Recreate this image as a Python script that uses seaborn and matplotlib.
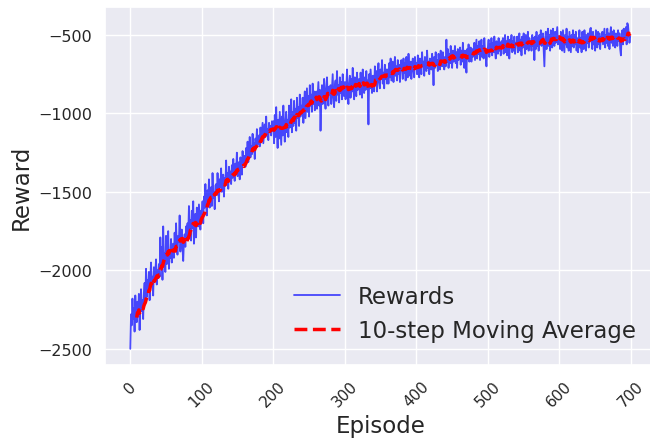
import numpy as np
import pandas as pd
import matplotlib
matplotlib.use("Agg")
import matplotlib.pyplot as plt
import seaborn as sns

# Reward per episode (20 episodes per row)
rewards = [
    -2500, -2280, -2350, -2180, -2310, -2240, -2390, -2160, -2270, -2330, -2200, -2290, -2150, -2380, -2220, -2120, -2260, -2190, -2310, -2140,
    -2080, -2200, -1990, -2170, -2060, -2130, -2010, -2190, -2050, -1950, -2100, -2040, -2160, -1980, -2070, -2010, -1930, -2090, -2000, -2050,
    -1960, -2040, -1790, -1980, -1850, -2060, -1720, -1930, -1890, -2010, -1780, -1960, -1840, -1750, -1990, -1870, -1920, -1800, -1950, -1860,
    -1830, -1920, -1760, -1870, -1700, -1850, -1900, -1780, -1820, -1650, -1880, -1790, -1740, -1860, -1940, -1810, -1770, -1850, -1720, -1800,
    -1700, -1780, -1590, -1740, -1680, -1810, -1620, -1730, -1560, -1830, -1750, -1640, -1790, -1600, -1690, -1720, -1580, -1660, -1740, -1620,
    -1640, -1560, -1700, -1530, -1600, -1450, -1580, -1650, -1490, -1560, -1420, -1600, -1520, -1470, -1590, -1380, -1540, -1500, -1610, -1460,
    -1450, -1520, -1380, -1490, -1560, -1420, -1470, -1350, -1500, -1440, -1390, -1530, -1410, -1460, -1300, -1440, -1380, -1480, -1340, -1420,
    -1370, -1450, -1330, -1410, -1290, -1390, -1430, -1320, -1380, -1250, -1400, -1360, -1310, -1420, -1280, -1350, -1390, -1240, -1330, -1300,
    -1270, -1340, -1220, -1290, -1180, -1310, -1250, -1150, -1280, -1210, -1260, -1130, -1240, -1190, -1290, -1160, -1220, -1100, -1200, -1170,
    -1140, -1210, -1090, -1180, -1120, -1060, -1190, -1130, -1070, -1150, -1020, -1140, -1100, -1170, -1060, -1120, -1080, -1140, -1050, -1110,
    -1050, -1190, -1010, -1150, -960, -1110, -1220, -1040, -1160, -990, -1100, -1200, -1020, -1140, -950, -1080, -1180, -1060, -990, -1120,
    -1040, -1150, -950, -1090, -1010, -910, -1120, -990, -1080, -920, -1060, -970, -1110, -900, -1030, -960, -1080, -880, -1020, -950,
    -1000, -900, -1060, -940, -860, -1030, -930, -840, -990, -890, -1020, -820, -950, -880, -990, -810, -940, -860, -980, -880,
    -860, -970, -890, -800, -950, -850, -1110, -920, -820, -940, -870, -780, -910, -970, -840, -770, -900, -950, -830, -880,
    -820, -940, -850, -750, -900, -960, -830, -790, -920, -730, -880, -820, -930, -770, -870, -800, -910, -750, -850, -890,
    -800, -910, -830, -720, -880, -940, -810, -760, -900, -780, -860, -710, -840, -910, -770, -820, -890, -740, -850, -790,
    -780, -880, -740, -830, -900, -720, -820, -870, -770, -850, -730, -840, -790, -1070, -750, -840, -720, -800, -870, -760,
    -760, -860, -700, -810, -730, -860, -750, -680, -800, -840, -720, -780, -660, -810, -740, -840, -690, -780, -720, -810,
    -720, -810, -680, -770, -650, -790, -730, -670, -800, -710, -640, -760, -700, -790, -660, -750, -690, -800, -700, -660,
    -700, -780, -650, -740, -680, -790, -640, -720, -770, -620, -710, -760, -670, -780, -690, -650, -730, -770, -640, -710,
    -680, -750, -630, -710, -770, -650, -690, -750, -610, -700, -670, -760, -640, -690, -730, -600, -710, -670, -750, -650,
    -670, -720, -620, -690, -820, -640, -710, -610, -690, -660, -730, -620, -680, -720, -600, -670, -700, -610, -680, -720,
    -640, -700, -530, -670, -590, -710, -620, -680, -570, -650, -710, -600, -670, -630, -570, -680, -610, -710, -590, -660,
    -630, -580, -690, -600, -670, -550, -640, -710, -600, -660, -740, -590, -650, -560, -670, -610, -580, -670, -590, -640,
    -600, -550, -660, -590, -530, -650, -570, -620, -540, -660, -600, -530, -640, -570, -650, -520, -600, -640, -700, -590,
    -580, -530, -640, -560, -610, -520, -630, -550, -610, -510, -600, -650, -540, -590, -620, -520, -600, -550, -630, -540,
    -570, -520, -620, -550, -500, -610, -540, -630, -510, -590, -650, -530, -580, -500, -610, -540, -600, -510, -620, -550,
    -560, -510, -610, -540, -490, -600, -530, -630, -510, -580, -490, -550, -620, -500, -590, -530, -480, -600, -520, -570,
    -540, -600, -500, -570, -520, -660, -510, -590, -480, -570, -520, -600, -500, -560, -470, -570, -520, -490, -590, -700,
    -530, -480, -590, -510, -460, -570, -500, -600, -470, -550, -580, -460, -520, -570, -480, -550, -500, -450, -560, -510,
    -520, -590, -480, -560, -600, -470, -540, -610, -500, -560, -460, -580, -510, -600, -480, -550, -610, -500, -570, -470,
    -580, -500, -560, -480, -600, -520, -610, -550, -470, -580, -520, -610, -480, -550, -590, -470, -530, -600, -500, -550,
    -490, -580, -510, -460, -455, -540, -590, -480, -560, -510, -600, -470, -540, -580, -480, -560, -490, -590, -510, -540,
    -480, -560, -510, -460, -580, -500, -550, -460, -570, -490, -590, -500, -450, -550, -480, -570, -470, -530, -580, -490,
    -500, -570, -470, -540, -490, -590, -630, -510, -470, -560, -460, -530, -490, -450, -560, -425, -440, -500, -550, -510,
]
window = 10

df = pd.DataFrame({"Episode": np.arange(len(rewards)), "Reward": rewards})
df["MovingAvg"] = df["Reward"].rolling(window).mean()

sns.set_theme(style="darkgrid")
fig, ax = plt.subplots(figsize=(6.5, 4.39), dpi=100)
fig.subplots_adjust(left=0.162, right=1.008, bottom=0.166, top=0.982)

sns.lineplot(data=df, x="Episode", y="Reward", color="blue", alpha=0.7,
             linewidth=1.3, label="Rewards", ax=ax)
sns.lineplot(data=df, x="Episode", y="MovingAvg", color="red", linestyle="--",
             linewidth=2.5, label=f"{window}-step Moving Average", ax=ax)

ax.set_xlabel("Episode", fontsize=16.5, labelpad=3)
ax.set_ylabel("Reward", fontsize=16.5)
ax.tick_params(axis="y", labelsize=11.5)
ax.tick_params(axis="x", labelsize=11)
plt.setp(ax.get_xticklabels(), rotation=45)
ax.legend(loc="lower right", fontsize=16.5, frameon=False,
          bbox_to_anchor=(0.99, 0.025), borderaxespad=0.2)

fig.savefig("out.png", dpi=100)
